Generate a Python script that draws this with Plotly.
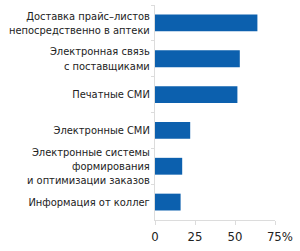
import plotly.graph_objects as go

categories = [
    "Доставка прайс–листов<br>непосредственно в аптеки",
    "Электронная связь<br>с поставщиками",
    "Печатные СМИ",
    "Электронные СМИ",
    "Электронные системы<br>формирования<br>и оптимизации заказов",
    "Информация от коллег",
]
values = [64, 53, 51.5, 22, 17, 16]
x_tickvals = [0, 25, 50, 75]
x_ticktext = ["0", "25", "50", "\u2007\u200975%"]

FONT = "DejaVu Sans Condensed"

fig = go.Figure(go.Bar(
    y=categories, x=values, orientation="h",
    marker=dict(color="#0c60ae", line=dict(width=0)),
    width=0.47,
))

fig.update_layout(
    width=300, height=251,
    margin=dict(l=155, r=25, t=5, b=31),
    paper_bgcolor="white", plot_bgcolor="white",
    showlegend=False,
    font=dict(family=FONT, color="#222222", size=11),
)
fig.update_yaxes(
    autorange="reversed", automargin=False,
    showline=True, linecolor="#dcdcdc", linewidth=1,
    ticks="outside", tickson="boundaries", ticklen=3, tickcolor="#dcdcdc",
    showgrid=False, zeroline=False,
    tickfont=dict(family=FONT, size=11, color="#222222"),
    ticklabelstandoff=2,
)
fig.update_xaxes(
    range=[0, 75], automargin=False,
    tickvals=x_tickvals, ticktext=x_ticktext,
    showline=True, linecolor="#dcdcdc", linewidth=1,
    ticks="outside", ticklen=4, tickcolor="#dcdcdc",
    showgrid=False, zeroline=False,
    tickfont=dict(family=FONT, size=13, color="#222222"),
)

fig.write_html("out.html")
